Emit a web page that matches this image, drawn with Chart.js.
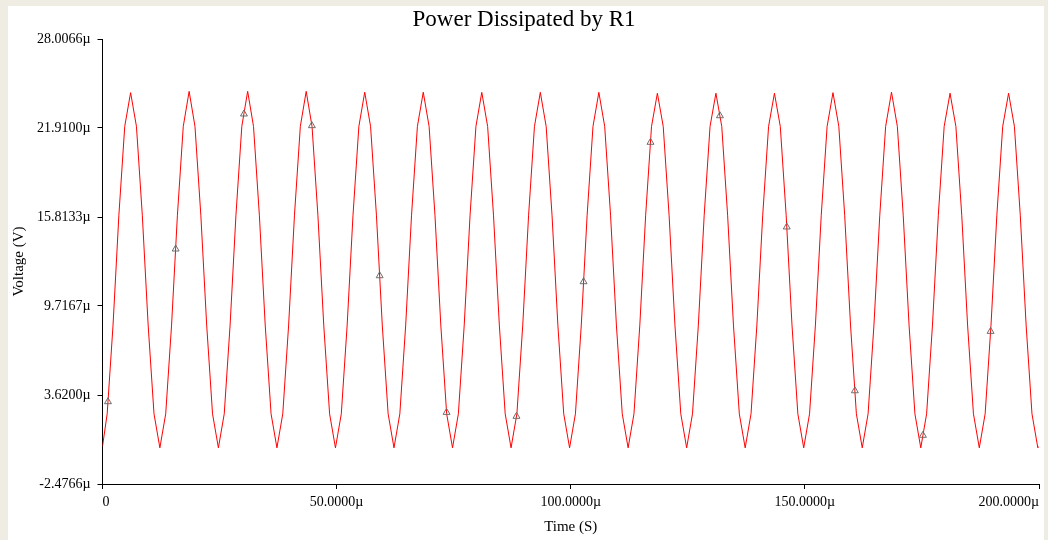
<!DOCTYPE html>
<html>
<head>
<meta charset="utf-8">
<title>Power Dissipated by R1</title>
<script src="https://cdn.jsdelivr.net/npm/chart.js@4.4.1/dist/chart.umd.min.js"></script>
<style>
  html, body { margin: 0; padding: 0; }
  body { width: 1048px; height: 540px; background: #efede3; position: relative; overflow: hidden; }
  #wrap { position: absolute; left: 8px; top: 6px; width: 1036px; height: 534px; background: #fff; }
</style>
</head>
<body>
<div id="wrap"><canvas id="chart-area" width="1036" height="534"></canvas></div>
<script>
// time in microseconds
var timeUs = [
  0,
  1, 2.25, 3.5, 4.75, 6, 7.25, 8.5, 9.75, 11, 12.25,
  13.5, 14.75, 16, 17.25, 18.5, 19.75, 21, 22.25, 23.5, 24.75,
  26, 27.25, 28.5, 29.75, 31, 32.25, 33.5, 34.75, 36, 37.25,
  38.5, 39.75, 41, 42.25, 43.5, 44.75, 46, 47.25, 48.5, 49.75,
  51, 52.25, 53.5, 54.75, 56, 57.25, 58.5, 59.75, 61, 62.25,
  63.5, 64.75, 66, 67.25, 68.5, 69.75, 71, 72.25, 73.5, 74.75,
  76, 77.25, 78.5, 79.75, 81, 82.25, 83.5, 84.75, 86, 87.25,
  88.5, 89.75, 91, 92.25, 93.5, 94.75, 96, 97.25, 98.5, 99.75,
  101, 102.25, 103.5, 104.75, 106, 107.25, 108.5, 109.75, 111, 112.25,
  113.5, 114.75, 116, 117.25, 118.5, 119.75, 121, 122.25, 123.5, 124.75,
  126, 127.25, 128.5, 129.75, 131, 132.25, 133.5, 134.75, 136, 137.25,
  138.5, 139.75, 141, 142.25, 143.5, 144.75, 146, 147.25, 148.5, 149.75,
  151, 152.25, 153.5, 154.75, 156, 157.25, 158.5, 159.75, 161, 162.25,
  163.5, 164.75, 166, 167.25, 168.5, 169.75, 171, 172.25, 173.5, 174.75,
  176, 177.25, 178.5, 179.75, 181, 182.25, 183.5, 184.75, 186, 187.25,
  188.5, 189.75, 191, 192.25, 193.5, 194.75, 196, 197.25, 198.5, 199.75,
  200
];

// power in micro units
var powerU = [
  0.10,
  2.33, 8.41, 15.94, 22.02, 24.33, 22.02, 15.94, 8.41, 2.33, 0,
  2.33, 8.41, 15.94, 22.02, 24.42, 22.02, 15.94, 8.41, 2.33, 0,
  2.33, 8.41, 15.94, 22.02, 24.42, 22.02, 15.94, 8.41, 2.33, 0,
  2.33, 8.41, 15.94, 22.02, 24.42, 22.02, 15.94, 8.41, 2.33, 0,
  2.33, 8.41, 15.94, 22.02, 24.36, 22.02, 15.94, 8.41, 2.33, 0,
  2.33, 8.41, 15.94, 22.02, 24.36, 22.02, 15.94, 8.41, 2.33, 0,
  2.33, 8.41, 15.94, 22.02, 24.35, 22.02, 15.94, 8.41, 2.33, 0,
  2.33, 8.41, 15.94, 22.02, 24.35, 22.02, 15.94, 8.41, 2.33, 0,
  2.33, 8.41, 15.94, 22.02, 24.35, 22.02, 15.94, 8.41, 2.33, 0,
  2.33, 8.41, 15.94, 22.02, 24.29, 22.02, 15.94, 8.41, 2.33, 0,
  2.33, 8.41, 15.94, 22.02, 24.29, 22.02, 15.94, 8.41, 2.33, 0,
  2.33, 8.41, 15.94, 22.02, 24.29, 22.02, 15.94, 8.41, 2.33, 0,
  2.33, 8.41, 15.94, 22.02, 24.33, 22.02, 15.94, 8.41, 2.33, 0,
  2.33, 8.41, 15.94, 22.02, 24.36, 22.02, 15.94, 8.41, 2.33, 0,
  2.33, 8.41, 15.94, 22.02, 24.29, 22.02, 15.94, 8.41, 2.33, 0,
  2.33, 8.41, 15.94, 22.02, 24.29, 22.02, 15.94, 8.41, 2.33, 0,
  0.10
];

// triangle markers
var markTimeUs = [1.17, 15.62, 30.21, 44.72, 59.19, 73.48, 88.41, 102.74, 117.03, 131.86, 146.13, 160.68, 175.21, 189.66];
var markPowerU = [3.16, 13.62, 22.87, 22.07, 11.79, 2.43, 2.16, 11.38, 20.93, 22.75, 15.13, 3.91, 0.86, 7.98];

var yTicks = [-2.4766, 3.6200, 9.7167, 15.8133, 21.9100, 28.0066];
var yTickLabels = ['-2.4766\u00b5', '3.6200\u00b5', '9.7167\u00b5', '15.8133\u00b5', '21.9100\u00b5', '28.0066\u00b5'];
var xTicks = [0, 50, 100, 150, 200];
var xTickLabels = ['0', '50.0000\u00b5', '100.0000\u00b5', '150.0000\u00b5', '200.0000\u00b5'];

var serif = 'Liberation Serif, "Times New Roman", serif';

var linePts = timeUs.map(function(t, i) { return { x: t, y: powerU[i] }; });
var markPts = markTimeUs.map(function(t, i) { return { x: t, y: markPowerU[i] }; });

var config = {
  type: 'line',
  data: {
    datasets: [{
      label: 'markers',
      data: markPts,
      showLine: false,
      pointStyle: 'triangle',
      pointRadius: 4,
      borderColor: '#6c6c6c',
      backgroundColor: 'rgba(0,0,0,0)',
      pointBorderWidth: 1
    }, {
      label: 'P(R1)',
      data: linePts,
      borderColor: '#ff0000',
      borderWidth: 1,
      pointRadius: 0,
      tension: 0,
      fill: false
    }]
  },
  options: {
    responsive: false,
    animation: false,
    layout: { padding: { left: 0, right: 4, top: 0, bottom: 0 } },
    plugins: {
      legend: { display: false },
      tooltip: { enabled: false },
      title: {
        display: true,
        text: 'Power Dissipated by R1',
        color: '#000',
        font: { family: serif, size: 23, weight: 'normal' },
        padding: { top: 0, bottom: 5.4 }
      }
    },
    scales: {
      x: {
        type: 'linear',
        min: 0,
        max: 200,
        afterBuildTicks: function(s) { s.ticks = xTicks.map(function(v) { return { value: v }; }); },
        afterFit: function(s) { s.height = 56; },
        ticks: {
          align: 'inner',
          padding: 5,
          maxRotation: 0,
          autoSkip: false,
          color: '#000',
          font: { family: serif, size: 14 },
          callback: function(v) { return xTickLabels[xTicks.indexOf(v)]; }
        },
        grid: { drawOnChartArea: false, drawTicks: true, tickLength: 5, color: '#000' },
        border: { display: true, color: '#000', width: 1 },
        title: {
          display: true,
          text: 'Time (S)',
          color: '#000',
          font: { family: serif, size: 15 },
          padding: { top: 0, bottom: 4 }
        }
      },
      y: {
        min: -2.4766,
        max: 28.0066,
        afterBuildTicks: function(s) { s.ticks = yTicks.map(function(v) { return { value: v }; }); },
        afterFit: function(s) { s.width = 94.5; },
        ticks: {
          padding: 7,
          color: '#000',
          font: { family: serif, size: 14 },
          callback: function(v) { return yTickLabels[yTicks.indexOf(v)]; }
        },
        grid: { drawOnChartArea: false, drawTicks: true, tickLength: 5, color: '#000' },
        border: { display: true, color: '#000', width: 1 },
        title: {
          display: true,
          text: 'Voltage (V)',
          color: '#000',
          font: { family: serif, size: 15 },
          padding: { top: 2, bottom: 0 }
        }
      }
    }
  }
};

window.onload = function() {
  var ctx = document.getElementById('chart-area').getContext('2d');
  window.myChart = new Chart(ctx, config);
};
</script>
</body>
</html>
